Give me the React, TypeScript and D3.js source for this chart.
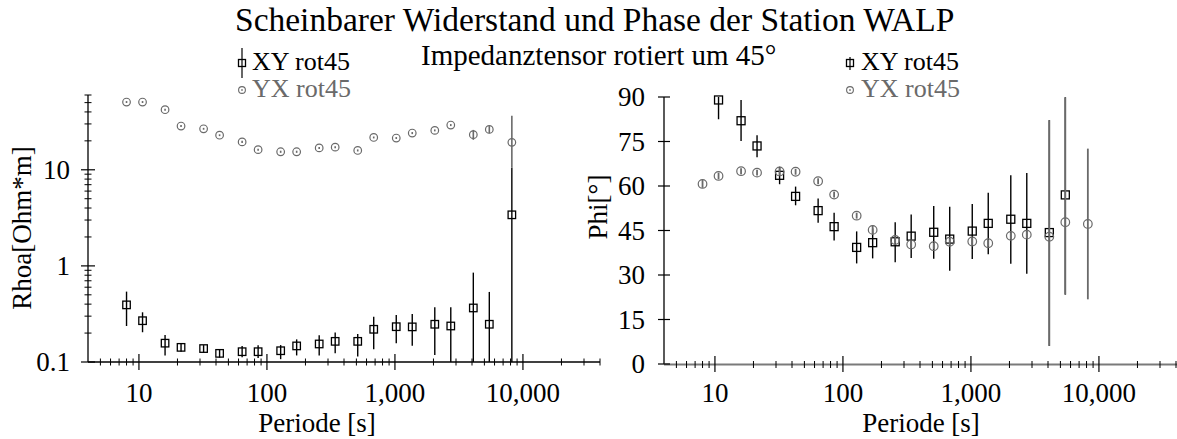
import React from "react";
import * as d3 from "d3";

// ---- data ----
const periods = [8, 10.67, 16, 21.33, 32, 42.67, 64, 85.33, 128, 170.67, 256, 341.33, 512, 682.67, 1024, 1365.33, 2048, 2730.67, 4096, 5461.33, 8192];

const rhoXY = [0.393, 0.269, 0.157, 0.142, 0.138, 0.123, 0.128, 0.128, 0.131, 0.147, 0.154, 0.164, 0.164, 0.219, 0.233, 0.232, 0.247, 0.237, 0.365, 0.247, 3.4];
const rhoXYLo = [0.237, 0.204, 0.117, 0.128, 0.125, 0.111, 0.112, 0.110, 0.107, 0.117, 0.117, 0.123, 0.114, 0.136, 0.157, 0.148, 0.118, 0.05, 0.05, 0.05, 0.05];
const rhoXYHi = [0.54, 0.329, 0.191, 0.157, 0.150, 0.136, 0.147, 0.149, 0.150, 0.172, 0.190, 0.203, 0.196, 0.296, 0.309, 0.316, 0.371, 0.371, 0.851, 0.536, 10.5];

const rhoYX = [50.7, 50.7, 42.2, 28.5, 26.7, 22.9, 19.5, 16.2, 15.4, 15.4, 16.9, 17.2, 15.9, 21.7, 21.4, 24.1, 25.7, 29.2, 23.2, 26.3, 19.3];
const rhoYXLo = [49.5, 49.5, 41.2, 27.8, 26.1, 22.4, 19.0, 15.8, 15.0, 15.0, 16.5, 16.8, 15.5, 21.2, 20.9, 23.5, 25.1, 28.5, 20.5, 24.0, 10.5];
const rhoYXHi = [51.9, 51.9, 43.2, 29.2, 27.3, 23.4, 20.0, 16.6, 15.8, 15.8, 17.3, 17.6, 16.3, 22.2, 21.9, 24.7, 26.3, 29.9, 26.0, 28.5, 36.5];

const phiXY = [null, 89.0, 82.0, 73.5, 63.6, 56.5, 51.7, 46.3, 39.3, 40.9, 41.2, 43.1, 44.4, 42.1, 44.8, 47.4, 48.8, 47.4, 44.3, 57.0, null];
const phiXYLo = [null, 82.5, 75.2, 69.7, 60.6, 53.5, 47.6, 41.6, 33.9, 35.6, 34.3, 35.7, 35.5, 31.4, 35.4, 37.0, 33.8, 30.4, 6.1, 23.4, null];
const phiXYHi = [null, 95, 89.0, 77.1, 66.5, 59.8, 55.8, 51.0, 44.7, 45.7, 47.8, 50.4, 53.3, 53.0, 53.9, 57.7, 63.6, 64.4, 82.2, 89.9, null];

const phiYX = [60.7, 63.4, 65.0, 64.5, 64.9, 64.8, 61.6, 57.1, 50.0, 45.2, 41.8, 40.3, 39.7, 41.2, 41.3, 40.7, 43.2, 43.6, 42.9, 47.8, 47.2];
const phiYXLo = [59.4, 62.3, 64.0, 63.5, 63.7, 63.8, 60.6, 56.1, 49.0, 43.6, 40.6, 39.1, 38.6, 40.0, 40.1, 39.5, 42.0, 42.4, 6.1, 23.4, 21.8];
const phiYXHi = [62.0, 64.5, 66.0, 65.5, 66.2, 65.8, 62.6, 58.1, 51.0, 46.8, 43.0, 41.5, 40.8, 42.4, 42.5, 41.9, 44.4, 44.8, 82.2, 89.9, 72.6];

const xMajor = [10, 100, 1000, 10000];
const yMajorL = [0.1, 1, 10];
const yTicksR = [0, 15, 30, 45, 60, 75, 90];

const title = "Scheinbarer Widerstand und Phase der Station WALP";
const subtitle = "Impedanztensor rotiert um 45°";
const seriesNames = ["XY rot45", "YX rot45"];

const FONT = "Liberation Serif, Times New Roman, Times, serif";
const GRAY = "#6a6a6a";
const fmt = d3.format(",");
const TS: React.CSSProperties = { fontFamily: FONT };

function minorLog(lo: number, hi: number, majors: number[]) {
  const out: number[] = [];
  for (let d = 1e-3; d <= 1e6; d *= 10) {
    for (let k = 2; k <= 9; k++) {
      const v = +(k * d).toPrecision(6);
      if (v > lo * 1.0001 && v <= hi * 1.0001 && !majors.includes(v)) out.push(v);
    }
  }
  return out;
}

function Square({ x, y, s, color }: { x: number; y: number; s: number; color: string }) {
  return <rect x={x - s / 2} y={y - s / 2} width={s} height={s} fill="none" stroke={color} strokeWidth={1.3} />;
}

function T(props: any) {
  const { children, ...rest } = props;
  return (
    <text style={TS} {...rest}>
      {children}
    </text>
  );
}

export default function App() {
  const xL = d3.scaleLog().domain([4, 40000]).range([88, 600]);
  const yL = d3.scaleLog().domain([0.1, 60]).range([362, 95]).clamp(true);
  const xR = d3.scaleLog().domain([4, 40000]).range([664, 1176]);
  const yR = d3.scaleLinear().domain([0, 90]).range([364, 97]).clamp(true);

  const xMinor = minorLog(4, 40000, xMajor);
  const yMinorL = minorLog(0.1, 60, yMajorL);

  return (
    <svg width={1177} height={439} style={{ position: "absolute", left: 0, top: 0, fontFamily: FONT }}>
      <rect width={1177} height={439} fill="#fff" />
      <T x={235} y={31} fontSize={33.5} fill="#000">{title}</T>
      <T x={421} y={65} fontSize={29} fill="#000">{subtitle}</T>

      {/* ---------- left plot ---------- */}
      <g>
        <line x1={88} x2={88} y1={yL.range()[1]} y2={yL.range()[0]} stroke="#000" strokeWidth={1.3} />
        <line x1={88} x2={600} y1={362} y2={362} stroke="#000" strokeWidth={1.3} />
        {xMajor.map((v) => (
          <g key={"xm" + v}>
            <line x1={xL(v)} x2={xL(v)} y1={354} y2={370} stroke="#000" strokeWidth={1.2} />
            <T x={xL(v)} y={402} fontSize={27} textAnchor="middle">{fmt(v)}</T>
          </g>
        ))}
        {xMinor.map((v) => (
          <line key={"xn" + v} x1={xL(v)} x2={xL(v)} y1={358.5} y2={365.5} stroke="#000" strokeWidth={1} />
        ))}
        {yMajorL.map((v) => (
          <g key={"ym" + v}>
            <line x1={81} x2={95} y1={yL(v)} y2={yL(v)} stroke="#000" strokeWidth={1.2} />
            <T x={70} y={yL(v) + 9} fontSize={27} textAnchor="end">{String(v)}</T>
          </g>
        ))}
        {yMinorL.map((v) => (
          <line key={"yn" + v} x1={84.5} x2={91.5} y1={yL(v)} y2={yL(v)} stroke="#000" strokeWidth={1} />
        ))}
        <T transform="translate(31,228) rotate(-90)" fontSize={27} textAnchor="middle">Rhoa[Ohm*m]</T>
        <T x={317} y={432} fontSize={27} textAnchor="middle">Periode [s]</T>

        {periods.map((p, i) => (
          <line key={"le" + i} x1={xL(p)} x2={xL(p)} y1={yL(rhoXYLo[i])} y2={yL(rhoXYHi[i])} stroke="#000" strokeWidth={1.4} />
        ))}
        {periods.map((p, i) => (
          <Square key={"ls" + i} x={xL(p)} y={yL(rhoXY[i])} s={7.5} color="#000" />
        ))}
        {periods.map((p, i) => (
          <line key={"lce" + i} x1={xL(p)} x2={xL(p)} y1={yL(rhoYXLo[i])} y2={yL(rhoYXHi[i])} stroke={GRAY} strokeWidth={1.6} />
        ))}
        {periods.map((p, i) => (
          <circle key={"lc" + i} cx={xL(p)} cy={yL(rhoYX[i])} r={3.8} fill="none" stroke={GRAY} strokeWidth={1.2} />
        ))}
      </g>

      {/* ---------- right plot ---------- */}
      <g>
        <line x1={664} x2={664} y1={97} y2={364} stroke="#000" strokeWidth={1.3} />
        <line x1={664} x2={1177} y1={364.5} y2={364.5} stroke="#7a7a7a" strokeWidth={2.2} />
        {xMajor.map((v) => (
          <g key={"rxm" + v}>
            <line x1={xR(v)} x2={xR(v)} y1={356} y2={372} stroke="#000" strokeWidth={1.2} />
            <T x={xR(v)} y={402} fontSize={27} textAnchor="middle">{fmt(v)}</T>
          </g>
        ))}
        {xMinor.map((v) => (
          <line key={"rxn" + v} x1={xR(v)} x2={xR(v)} y1={361} y2={368} stroke="#000" strokeWidth={1} />
        ))}
        {yTicksR.map((v) => (
          <g key={"ry" + v}>
            <line x1={658} x2={670} y1={yR(v)} y2={yR(v)} stroke="#000" strokeWidth={1.2} />
            <T x={645} y={yR(v) + 9} fontSize={27} textAnchor="end">{String(v)}</T>
          </g>
        ))}
        <T transform="translate(607,207) rotate(-90)" fontSize={27} textAnchor="middle">Phi[°]</T>
        <T x={921} y={432} fontSize={27} textAnchor="middle">Periode [s]</T>

        {periods.map((p, i) =>
          phiXY[i] == null ? null : (
            <line key={"re" + i} x1={xR(p)} x2={xR(p)} y1={yR(phiXYLo[i] as number)} y2={yR(phiXYHi[i] as number)} stroke="#000" strokeWidth={1.4} />
          )
        )}
        {periods.map((p, i) =>
          phiXY[i] == null ? null : <Square key={"rs" + i} x={xR(p)} y={yR(phiXY[i] as number)} s={8} color="#000" />
        )}
        {periods.map((p, i) => (
          <line key={"rce" + i} x1={xR(p)} x2={xR(p)} y1={yR(phiYXLo[i])} y2={yR(phiYXHi[i])} stroke={GRAY} strokeWidth={1.8} />
        ))}
        {periods.map((p, i) => (
          <circle key={"rc" + i} cx={xR(p)} cy={yR(phiYX[i])} r={4.3} fill="none" stroke={GRAY} strokeWidth={1.2} />
        ))}
      </g>

      {/* ---------- legends ---------- */}
      <g>
        <line x1={242} x2={242} y1={48} y2={78} stroke="#000" strokeWidth={1.2} />
        <Square x={242} y={63} s={7} color="#000" />
        <T x={252} y={70} fontSize={26} fill="#000">{seriesNames[0]}</T>
        <circle cx={242} cy={90} r={3.4} fill="none" stroke={GRAY} strokeWidth={1.1} />
        <line x1={242} x2={242} y1={89} y2={91} stroke={GRAY} strokeWidth={1.2} />
        <T x={252} y={97} fontSize={26} fill={GRAY}>{seriesNames[1]}</T>
      </g>
      <g>
        <line x1={850} x2={850} y1={57} y2={70} stroke="#000" strokeWidth={1.2} />
        <Square x={850} y={63} s={7} color="#000" />
        <T x={861} y={70} fontSize={26} fill="#000">{seriesNames[0]}</T>
        <circle cx={850} cy={90} r={3.4} fill="none" stroke={GRAY} strokeWidth={1.1} />
        <line x1={850} x2={850} y1={89} y2={91} stroke={GRAY} strokeWidth={1.2} />
        <T x={861} y={97} fontSize={26} fill={GRAY}>{seriesNames[1]}</T>
      </g>
    </svg>
  );
}
